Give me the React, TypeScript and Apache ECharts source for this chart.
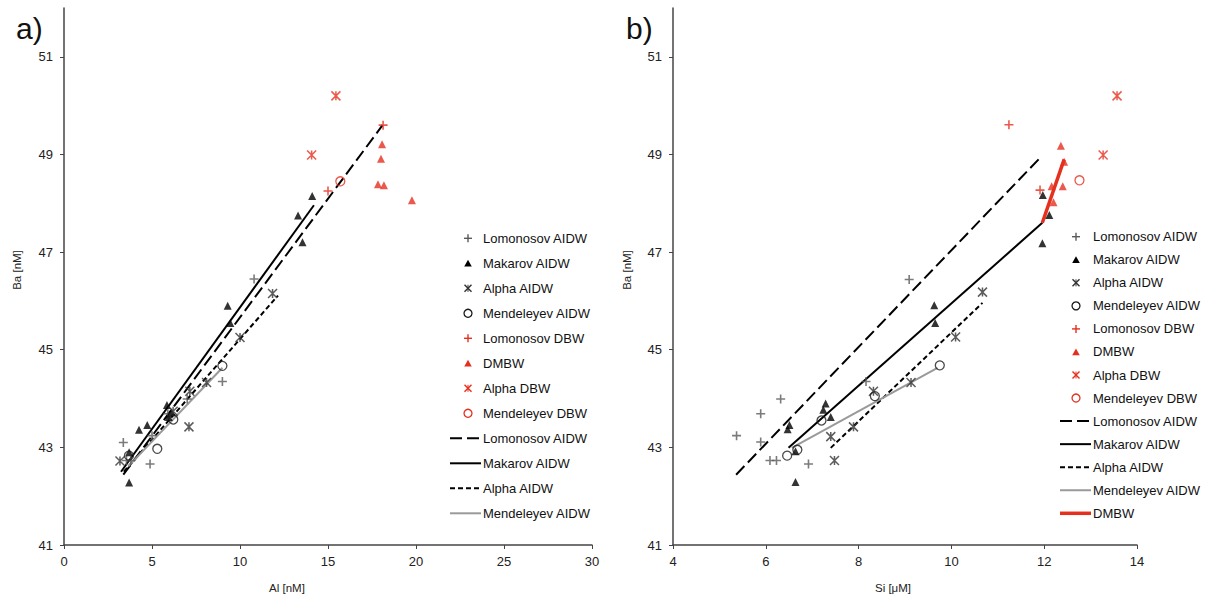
import React, { useEffect, useRef } from 'react';
import * as echarts from 'echarts';

// ---------- Axis ticks ----------
const baTicks = [41, 43, 45, 47, 49, 51];

// ---------- Panel a) : Al [nM] vs Ba [nM] ----------
const lomonosovAidwA = [[3.37, 43.1], [3.55, 42.73], [3.8, 42.73], [4.89, 42.66], [5.0, 43.24], [5.9, 43.69], [7.0, 43.99], [9.0, 44.35], [10.8, 46.45]];
const makarovAidwA = [[3.7, 42.28], [3.7, 42.9], [4.26, 43.36], [4.73, 43.46], [5.85, 43.87], [6.1, 43.72], [5.95, 43.62], [9.3, 45.9], [9.45, 45.55], [13.3, 47.75], [13.55, 47.2], [14.1, 48.15]];
const alphaAidwA = [[3.18, 42.72], [6.2, 43.74], [7.1, 43.42], [7.15, 44.15], [8.1, 44.33], [10.0, 45.25], [11.85, 46.15]];
const mendeleyevAidwA = [[3.69, 42.83], [5.3, 42.97], [6.21, 43.57], [9.0, 44.67]];
const lomonosovDbwA = [[15.0, 48.25], [18.13, 49.6]];
const dmbwA = [[18.07, 49.21], [18.01, 48.91], [17.84, 48.39], [18.18, 48.37], [19.77, 48.06]];
const alphaDbwA = [[14.07, 48.99], [15.45, 50.2]];
const mendeleyevDbwA = [[15.7, 48.45]];
const lomonosovFitA = [[3.37, 42.44], [18.1, 49.6]];
const makarovFitA = [[3.24, 42.5], [14.2, 47.96]];
const alphaFitA = [[3.4, 42.5], [12.16, 46.11]];
const mendeleyevFitA = [[3.65, 42.61], [9.0, 44.63]];

// ---------- Panel b) : Si [μM] vs Ba [nM] ----------
const lomonosovAidwB = [[5.37, 43.24], [5.89, 43.69], [5.89, 43.11], [6.32, 43.99], [6.09, 42.73], [6.23, 42.73], [6.92, 42.66], [8.16, 44.35], [9.09, 46.44]];
const makarovAidwB = [[6.47, 43.37], [6.51, 43.46], [6.64, 42.92], [6.64, 42.29], [7.24, 43.77], [7.29, 43.9], [7.4, 43.62], [9.63, 45.91], [9.65, 45.55], [11.97, 48.17], [12.11, 47.76], [11.96, 47.18]];
const alphaAidwB = [[7.4, 43.22], [7.48, 42.73], [7.89, 43.42], [8.32, 44.15], [9.13, 44.33], [10.09, 45.26], [10.67, 46.18]];
const mendeleyevAidwB = [[6.46, 42.83], [6.68, 42.95], [7.2, 43.55], [8.35, 44.05], [9.75, 44.68]];
const lomonosovDbwB = [[11.24, 49.61], [11.91, 48.27]];
const dmbwB = [[12.36, 49.18], [12.43, 48.85], [12.16, 48.35], [12.4, 48.35], [12.2, 48.02]];
const alphaDbwB = [[13.27, 48.99], [13.57, 50.2]];
const mendeleyevDbwB = [[12.76, 48.47]];
const lomonosovFitB = [[5.36, 42.44], [11.95, 48.97]];
const makarovFitB = [[6.49, 42.99], [11.96, 47.6]];
const alphaFitB = [[7.4, 42.99], [10.67, 45.96]];
const mendeleyevFitB = [[6.56, 42.99], [9.7, 44.63]];
const dmbwFitB = [[11.96, 47.6], [12.43, 48.9]];

const legendLabelsA = ['Lomonosov AIDW', 'Makarov AIDW', 'Alpha AIDW', 'Mendeleyev AIDW', 'Lomonosov DBW', 'DMBW', 'Alpha DBW', 'Mendeleyev DBW', 'Lomonosov AIDW', 'Makarov AIDW', 'Alpha AIDW', 'Mendeleyev AIDW'];
const legendLabelsB = ['Lomonosov AIDW', 'Makarov AIDW', 'Alpha AIDW', 'Mendeleyev AIDW', 'Lomonosov DBW', 'DMBW', 'Alpha DBW', 'Mendeleyev DBW', 'Lomonosov AIDW', 'Makarov AIDW', 'Alpha AIDW', 'Mendeleyev AIDW', 'DMBW'];

const FONT = '"Liberation Sans", Arial, sans-serif';
const RED = '#e5301f';
const GREY_PLUS = '#5a5a5a';
const DARK = '#1a1a1a';
const PLUS = 'path://M5,0L5,10M0,5L10,5';
const STAR = 'path://M0,0L10,10M10,0L0,10M5,0L5,10';

type Kind = 'plus' | 'tri' | 'star' | 'circle' | 'line';
interface Sty { kind: Kind; color: string; dash?: number[] | null; width?: number }

const styleList: Sty[] = [
  { kind: 'plus', color: GREY_PLUS },
  { kind: 'tri', color: '#000' },
  { kind: 'star', color: '#333' },
  { kind: 'circle', color: DARK },
  { kind: 'plus', color: RED },
  { kind: 'tri', color: RED },
  { kind: 'star', color: RED },
  { kind: 'circle', color: RED },
  { kind: 'line', color: '#000', dash: [12, 5], width: 2 },
  { kind: 'line', color: '#000', dash: null, width: 2 },
  { kind: 'line', color: '#000', dash: [5, 3], width: 2 },
  { kind: 'line', color: '#9a9a9a', dash: null, width: 2 },
  { kind: 'line', color: RED, dash: null, width: 3.5 },
];

function scatterSeries(name: string, data: number[][], idx: number, s: Sty) {
  let symbol: string = 'circle';
  let size = 9;
  let itemStyle: any = {};
  if (s.kind === 'plus') { symbol = PLUS; size = 9; itemStyle = { color: 'rgba(0,0,0,0)', borderColor: s.color, borderWidth: 1.6 }; }
  if (s.kind === 'star') { symbol = STAR; size = 9; itemStyle = { color: 'rgba(0,0,0,0)', borderColor: s.color, borderWidth: 1.5 }; }
  if (s.kind === 'tri') { symbol = 'triangle'; size = 8; itemStyle = { color: s.color }; }
  if (s.kind === 'circle') { symbol = 'circle'; size = 9; itemStyle = { color: 'rgba(0,0,0,0)', borderColor: s.color, borderWidth: 1.3 }; }
  return {
    type: 'scatter', name, data, xAxisIndex: idx, yAxisIndex: idx,
    symbol, symbolSize: size, itemStyle, z: 3, silent: true,
  };
}

function lineSeries(name: string, data: number[][], idx: number, s: Sty) {
  return {
    type: 'line', name, data, xAxisIndex: idx, yAxisIndex: idx,
    symbol: 'none', z: 2, silent: true,
    lineStyle: { color: s.color, width: s.width, type: s.dash ? s.dash : 'solid' },
  };
}

function legendGraphics(labels: string[], lineX1: number, lineX2: number, markX: number, textX: number, y0: number, step: number) {
  const els: any[] = [];
  labels.forEach((label, i) => {
    const s = styleList[i];
    const y = y0 + step * i;
    const c = s.color;
    if (s.kind === 'plus') {
      els.push({ type: 'line', shape: { x1: markX - 4, y1: y, x2: markX + 4, y2: y }, style: { stroke: c, lineWidth: 1.4 } });
      els.push({ type: 'line', shape: { x1: markX, y1: y - 4, x2: markX, y2: y + 4 }, style: { stroke: c, lineWidth: 1.4 } });
    } else if (s.kind === 'tri') {
      els.push({ type: 'polygon', shape: { points: [[markX - 3.8, y + 3.3], [markX + 3.8, y + 3.3], [markX, y - 3.5]] }, style: { fill: c } });
    } else if (s.kind === 'star') {
      els.push({ type: 'line', shape: { x1: markX - 3.5, y1: y - 3.5, x2: markX + 3.5, y2: y + 3.5 }, style: { stroke: c, lineWidth: 1.4 } });
      els.push({ type: 'line', shape: { x1: markX + 3.5, y1: y - 3.5, x2: markX - 3.5, y2: y + 3.5 }, style: { stroke: c, lineWidth: 1.4 } });
      els.push({ type: 'line', shape: { x1: markX, y1: y - 3.5, x2: markX, y2: y + 3.5 }, style: { stroke: c, lineWidth: 1 } });
    } else if (s.kind === 'circle') {
      els.push({ type: 'circle', shape: { cx: markX, cy: y, r: 4 }, style: { fill: 'none', stroke: c, lineWidth: 1.3 } });
    } else {
      els.push({ type: 'line', shape: { x1: lineX1, y1: y, x2: lineX2, y2: y }, style: { stroke: c, lineWidth: s.width, lineDash: s.dash || null } });
    }
    els.push({ type: 'text', x: textX, y, style: { text: label, font: `13px ${FONT}`, fill: '#111', textAlign: 'left', textVerticalAlign: 'middle' } });
  });
  return els;
}

const axisCommon = {
  axisLine: { show: true, onZero: false, lineStyle: { color: '#444', width: 1.5 } },
  axisTick: { show: true, length: 4, lineStyle: { color: '#444', width: 1 } },
  splitLine: { show: false },
};

export default function App() {
  const ref = useRef<HTMLDivElement>(null);
  useEffect(() => {
    if (!ref.current) return;
    const chart = echarts.init(ref.current, undefined, { renderer: 'svg' });
    const labelStyle = { color: '#222', fontSize: 13, fontFamily: FONT };
    const seriesA = [
      scatterSeries('Lomonosov AIDW', lomonosovAidwA, 0, styleList[0]),
      scatterSeries('Makarov AIDW', makarovAidwA, 0, styleList[1]),
      scatterSeries('Alpha AIDW', alphaAidwA, 0, styleList[2]),
      scatterSeries('Mendeleyev AIDW', mendeleyevAidwA, 0, styleList[3]),
      scatterSeries('Lomonosov DBW', lomonosovDbwA, 0, styleList[4]),
      scatterSeries('DMBW', dmbwA, 0, styleList[5]),
      scatterSeries('Alpha DBW', alphaDbwA, 0, styleList[6]),
      scatterSeries('Mendeleyev DBW', mendeleyevDbwA, 0, styleList[7]),
      lineSeries('Lomonosov AIDW fit', lomonosovFitA, 0, styleList[8]),
      lineSeries('Makarov AIDW fit', makarovFitA, 0, styleList[9]),
      lineSeries('Alpha AIDW fit', alphaFitA, 0, styleList[10]),
      lineSeries('Mendeleyev AIDW fit', mendeleyevFitA, 0, styleList[11]),
    ];
    const seriesB = [
      scatterSeries('Lomonosov AIDW', lomonosovAidwB, 1, styleList[0]),
      scatterSeries('Makarov AIDW', makarovAidwB, 1, styleList[1]),
      scatterSeries('Alpha AIDW', alphaAidwB, 1, styleList[2]),
      scatterSeries('Mendeleyev AIDW', mendeleyevAidwB, 1, styleList[3]),
      scatterSeries('Lomonosov DBW', lomonosovDbwB, 1, styleList[4]),
      scatterSeries('DMBW', dmbwB, 1, styleList[5]),
      scatterSeries('Alpha DBW', alphaDbwB, 1, styleList[6]),
      scatterSeries('Mendeleyev DBW', mendeleyevDbwB, 1, styleList[7]),
      lineSeries('Lomonosov AIDW fit', lomonosovFitB, 1, styleList[8]),
      lineSeries('Makarov AIDW fit', makarovFitB, 1, styleList[9]),
      lineSeries('Alpha AIDW fit', alphaFitB, 1, styleList[10]),
      lineSeries('Mendeleyev AIDW fit', mendeleyevFitB, 1, styleList[11]),
      lineSeries('DMBW fit', dmbwFitB, 1, styleList[12]),
    ];
    const yAxisBase = (idx: number) => ({
      type: 'value', gridIndex: idx, min: 41, max: 52,
      ...axisCommon,
      axisTick: { ...axisCommon.axisTick, customValues: baTicks },
      axisLabel: { ...labelStyle, margin: 11, customValues: baTicks },
    });
    chart.setOption({
      animation: false,
      backgroundColor: '#fff',
      grid: [
        { left: 64, top: 8, width: 528, height: 537 },
        { left: 673, top: 8, width: 464, height: 537 },
      ],
      xAxis: [
        { type: 'value', gridIndex: 0, min: 0, max: 30, interval: 5, ...axisCommon, axisLabel: { ...labelStyle, margin: 10 } },
        { type: 'value', gridIndex: 1, min: 4, max: 14, interval: 2, ...axisCommon, axisLabel: { ...labelStyle, margin: 10 } },
      ],
      yAxis: [yAxisBase(0), yAxisBase(1)],
      series: [...seriesA, ...seriesB],
      graphic: [
        { type: 'text', x: 16, y: 28, style: { text: 'a)', font: `30px ${FONT}`, fill: '#111', textVerticalAlign: 'middle' } },
        { type: 'text', x: 626, y: 28, style: { text: 'b)', font: `30px ${FONT}`, fill: '#111', textVerticalAlign: 'middle' } },
        { type: 'text', x: 287, y: 588, style: { text: 'Al [nM]', font: `11.5px ${FONT}`, fill: '#222', textAlign: 'center', textVerticalAlign: 'middle' } },
        { type: 'text', x: 893, y: 588, style: { text: 'Si [\u03bcM]', font: `11.5px ${FONT}`, fill: '#222', textAlign: 'center', textVerticalAlign: 'middle' } },
        { type: 'text', x: 17, y: 270, rotation: Math.PI / 2, style: { text: 'Ba [nM]', font: `11.5px ${FONT}`, fill: '#222', textAlign: 'center', textVerticalAlign: 'middle' } },
        { type: 'text', x: 627, y: 270, rotation: Math.PI / 2, style: { text: 'Ba [nM]', font: `11.5px ${FONT}`, fill: '#222', textAlign: 'center', textVerticalAlign: 'middle' } },
        ...legendGraphics(legendLabelsA, 450, 481, 468, 483, 238.3, 25),
        ...legendGraphics(legendLabelsB, 1060, 1091, 1076, 1093, 236.7, 23.05),
      ],
    });
    return () => chart.dispose();
  }, []);
  return <div ref={ref} style={{ position: 'fixed', left: 0, top: 0, width: 1217, height: 601, background: '#fff' }} />;
}
